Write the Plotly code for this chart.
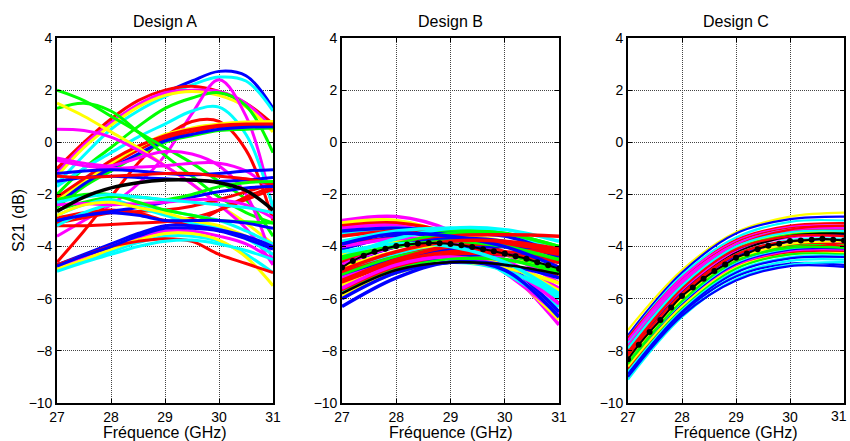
import plotly.graph_objects as go

# ---------------- data ----------------
freq_A = [27, 27.5, 28, 28.5, 29, 29.5, 30, 30.5, 31]
freq_BC = [27, 28, 29, 30, 31]
freq_mean = [27, 27.2, 27.4, 27.6, 27.8, 28, 28.2, 28.4, 28.6, 28.8, 29,
             29.2, 29.4, 29.6, 29.8, 30, 30.2, 30.4, 30.6, 30.8, 31]

x_ticks = [27, 28, 29, 30, 31]
x_ticktext = ["27", "28", "29", "30", "31"]
y_ticks = [-10, -8, -6, -4, -2, 0, 2, 4]

titles = ["Design A", "Design B", "Design C"]
x_title = "Fréquence (GHz)"
y_title = "S21 (dB)"

A_colors = ["blue", "cyan", "red", "magenta", "yellow", "green", "magenta", "cyan",
            "red", "red", "yellow", "green", "blue", "red", "green", "green",
            "yellow", "magenta", "magenta", "magenta", "blue", "blue", "red", "red",
            "red", "red", "blue", "green", "cyan", "cyan", "magenta", "yellow",
            "green", "blue", "cyan", "blue", "magenta", "cyan", "yellow", "red",
            "cyan", "blue"]
A_curves = [
    [-1.1, -0.1, 0.75, 1.4, 1.9, 2.35, 2.72, 2.55, 1.3],
    [-1.6, -0.5, 0.5, 1.2, 1.75, 2.2, 2.5, 2.35, 1.2],
    [-1.0, 0.0, 0.9, 1.6, 2.0, 2.15, 1.95, 1.5, 0.7],
    [-1.2, -0.1, 0.75, 1.45, 1.9, 2.0, 1.95, 1.5, 0.5],
    [-1.3, -0.2, 0.65, 1.35, 1.8, 1.95, 1.8, 1.35, 0.4],
    [-2.0, -1.0, -0.2, 0.6, 1.3, 1.7, 1.9, 1.4, -0.4],
    [-3.6, -3.0, -2.4, -1.6, -0.5, 1.1, 2.4, 1.0, -2.6],
    [-1.7, -1.0, -0.4, 0.2, 0.7, 1.2, 1.35, 0.3, -2.5],
    [-4.6, -3.4, -2.1, -0.8, 0.2, 0.8, 0.8, -0.3, -3.0],
    [-2.3, -1.6, -0.9, -0.3, 0.15, 0.4, 0.6, 0.65, 0.7],
    [-2.2, -1.5, -0.8, -0.2, 0.3, 0.55, 0.7, 0.78, 0.8],
    [-2.5, -1.7, -1.1, -0.5, 0.0, 0.25, 0.45, 0.5, 0.55],
    [-2.4, -1.6, -1.0, -0.45, 0.05, 0.3, 0.5, 0.58, 0.6],
    [-2.1, -1.4, -0.7, -0.15, 0.25, 0.5, 0.65, 0.7, 0.7],
    [2.0, 1.6, 1.0, 0.4, -0.2, -0.8, -1.5, -2.2, -3.6],
    [1.3, 1.5, 1.2, 0.4, -0.5, -1.3, -2.1, -2.7, -3.1],
    [1.5, 1.0, 0.4, -0.2, -0.9, -1.6, -2.4, -3.1, -3.9],
    [0.5, 0.45, 0.2, -0.3, -0.9, -1.6, -2.4, -3.3, -4.7],
    [-0.6, -0.8, -0.9, -0.6, -0.35, -0.45, -0.9, -2.0, -4.6],
    [-0.7, -0.9, -1.0, -0.95, -0.9, -0.8, -0.8, -1.1, -1.9],
    [-1.2, -1.1, -1.05, -1.1, -1.2, -1.25, -1.2, -1.1, -1.05],
    [-1.5, -1.35, -1.3, -1.35, -1.4, -1.45, -1.5, -1.45, -1.35],
    [-1.3, -1.35, -1.3, -1.25, -1.2, -1.2, -1.3, -1.4, -1.6],
    [-3.1, -2.9, -2.7, -2.65, -2.6, -2.45, -2.2, -1.9, -1.6],
    [-3.2, -3.2, -3.15, -3.1, -3.05, -2.9, -2.6, -2.2, -1.8],
    [-2.9, -2.7, -2.6, -2.7, -3.0, -3.1, -2.6, -2.1, -1.7],
    [-3.0, -2.8, -2.65, -2.5, -2.3, -2.1, -1.9, -1.75, -1.7],
    [-2.6, -2.3, -2.1, -2.1, -2.2, -2.0, -1.7, -1.55, -1.5],
    [-3.2, -2.7, -2.4, -2.4, -2.6, -2.8, -3.0, -3.4, -3.9],
    [-2.8, -2.4, -2.2, -2.5, -2.8, -3.1, -3.3, -3.7, -4.3],
    [-2.4, -2.35, -2.4, -2.35, -2.3, -2.2, -2.2, -2.4, -2.9],
    [-2.8, -2.4, -2.3, -2.5, -2.7, -3.0, -3.2, -3.6, -4.0],
    [-2.2, -2.0, -2.0, -2.3, -2.6, -2.8, -3.0, -3.05, -3.1],
    [-3.0, -2.8, -2.7, -2.8, -3.0, -3.0, -3.0, -3.1, -3.3],
    [-2.3, -2.1, -2.0, -2.1, -2.2, -2.3, -2.4, -2.5, -2.7],
    [-4.7, -4.3, -3.9, -3.5, -3.2, -3.2, -3.35, -3.6, -4.0],
    [-4.8, -4.4, -4.0, -3.65, -3.4, -3.4, -3.6, -3.9, -4.5],
    [-4.9, -4.55, -4.2, -3.85, -3.6, -3.6, -3.8, -4.3, -5.0],
    [-4.85, -4.5, -4.1, -3.75, -3.5, -3.5, -3.75, -4.4, -5.5],
    [-4.7, -4.35, -4.0, -3.8, -3.7, -3.8, -4.3, -4.65, -5.0],
    [-4.95, -4.6, -4.3, -4.0, -3.8, -3.75, -3.9, -4.15, -4.5],
    [-4.75, -4.35, -4.0, -3.6, -3.3, -3.3, -3.4, -3.7, -4.1],
]
A_mean = [-2.65, -2.1, -1.75, -1.55, -1.45, -1.45, -1.55, -1.85, -2.6]

B_colors = ["magenta", "yellow", "red", "magenta", "cyan", "cyan", "blue", "red",
            "cyan", "green", "blue", "red", "yellow", "magenta", "cyan", "green",
            "red", "blue", "magenta", "yellow", "cyan", "red", "green", "blue",
            "magenta", "red", "yellow", "blue", "red", "magenta", "green", "cyan",
            "yellow", "blue", "blue", "red", "cyan", "green", "blue", "red"]
B_curves = [
    [-3.0, -2.85, -3.4, -4.8, -7.0],
    [-3.1, -3.0, -3.6, -4.9, -6.8],
    [-3.2, -3.1, -3.5, -4.5, -6.2],
    [-3.3, -3.2, -3.7, -5.0, -6.6],
    [-3.5, -3.3, -3.6, -4.7, -6.0],
    [-3.6, -3.4, -3.9, -5.0, -6.3],
    [-3.4, -3.3, -3.5, -4.6, -6.5],
    [-3.6, -3.4, -3.5, -3.9, -4.8],
    [-3.8, -3.4, -3.3, -3.5, -4.2],
    [-4.0, -3.6, -3.4, -3.5, -4.0],
    [-4.1, -3.6, -3.5, -3.6, -4.3],
    [-3.9, -3.7, -3.8, -4.2, -5.2],
    [-4.3, -3.8, -3.6, -3.8, -4.5],
    [-4.0, -3.7, -3.8, -4.5, -5.8],
    [-4.4, -3.7, -3.3, -3.35, -3.8],
    [-4.5, -3.9, -3.5, -3.5, -4.0],
    [-4.6, -4.0, -3.6, -3.55, -3.6],
    [-4.7, -4.0, -3.7, -3.8, -4.4],
    [-4.7, -4.0, -3.9, -4.3, -5.4],
    [-4.8, -4.2, -4.0, -4.3, -5.0],
    [-5.0, -4.3, -4.1, -4.6, -6.0],
    [-5.0, -4.4, -4.0, -4.0, -4.3],
    [-5.1, -4.4, -4.1, -4.3, -4.9],
    [-5.2, -4.5, -4.1, -4.0, -4.1],
    [-5.2, -4.6, -4.3, -4.6, -5.6],
    [-5.4, -4.6, -4.2, -4.2, -4.5],
    [-5.5, -4.8, -4.5, -4.7, -5.7],
    [-5.6, -4.8, -4.4, -4.3, -4.6],
    [-5.7, -4.8, -4.3, -4.3, -4.6],
    [-5.6, -4.7, -4.4, -4.8, -6.2],
    [-5.8, -4.9, -4.5, -4.5, -5.0],
    [-5.8, -5.0, -4.6, -4.9, -5.9],
    [-5.9, -5.0, -4.6, -4.8, -5.4],
    [-6.0, -5.0, -4.6, -4.7, -5.2],
    [-6.3, -5.2, -4.6, -4.9, -6.7],
    [-5.3, -4.5, -4.0, -3.9, -4.2],
    [-4.2, -3.9, -4.0, -4.6, -5.8],
    [-4.4, -4.0, -3.8, -4.0, -4.5],
    [-3.9, -3.5, -3.6, -4.0, -4.8],
    [-4.9, -4.2, -3.8, -3.8, -4.1],
]
B_nominal = [-5.8, -4.9, -4.6, -4.7, -5.05]
B_mean = [-4.8, -4.55, -4.35, -4.2, -4.08, -3.98, -3.92, -3.88, -3.86, -3.87, -3.9,
          -3.95, -4.02, -4.1, -4.18, -4.27, -4.37, -4.47, -4.6, -4.72, -4.85]

C_colors = ["yellow", "blue", "cyan", "red", "magenta", "red", "cyan", "magenta",
            "red", "yellow", "green", "blue", "magenta", "black", "cyan", "red",
            "blue", "magenta", "red", "green", "red", "cyan", "blue", "magenta",
            "red", "yellow", "green", "cyan", "blue", "cyan", "blue", "cyan",
            "blue", "red", "red", "magenta", "red", "yellow", "green", "cyan"]
C_curves = [
    [-7.2, -4.9, -3.45, -2.85, -2.7],
    [-7.4, -5.0, -3.5, -2.95, -2.85],
    [-7.5, -5.1, -3.65, -3.05, -3.0],
    [-7.5, -5.2, -3.75, -3.2, -3.1],
    [-7.6, -5.2, -3.8, -3.25, -3.2],
    [-7.7, -5.3, -3.85, -3.3, -3.25],
    [-7.7, -5.35, -3.9, -3.35, -3.3],
    [-7.8, -5.4, -3.95, -3.4, -3.35],
    [-7.9, -5.5, -4.0, -3.45, -3.35],
    [-8.0, -5.6, -4.05, -3.5, -3.45],
    [-7.9, -5.55, -4.1, -3.55, -3.5],
    [-8.1, -5.7, -4.15, -3.6, -3.55],
    [-8.0, -5.65, -4.2, -3.65, -3.6],
    [-8.2, -5.8, -4.25, -3.6, -3.5],
    [-8.2, -5.85, -4.3, -3.75, -3.7],
    [-8.3, -5.9, -4.35, -3.8, -3.75],
    [-8.4, -6.0, -4.4, -3.85, -3.8],
    [-8.3, -5.95, -4.45, -3.9, -3.85],
    [-8.5, -6.1, -4.5, -3.95, -3.9],
    [-8.4, -6.05, -4.55, -4.0, -3.95],
    [-8.6, -6.2, -4.6, -4.05, -4.0],
    [-8.5, -6.15, -4.65, -4.1, -4.05],
    [-8.6, -6.25, -4.7, -4.15, -4.1],
    [-8.7, -6.3, -4.75, -4.2, -4.15],
    [-8.7, -6.35, -4.8, -4.25, -4.2],
    [-8.6, -6.3, -4.8, -4.3, -4.25],
    [-8.8, -6.4, -4.85, -4.3, -4.3],
    [-8.8, -6.45, -4.95, -4.4, -4.35],
    [-8.9, -6.5, -5.0, -4.45, -4.4],
    [-9.0, -6.6, -5.1, -4.55, -4.5],
    [-8.9, -6.55, -5.15, -4.65, -4.7],
    [-9.1, -6.7, -5.25, -4.7, -4.6],
    [-9.0, -6.65, -5.3, -4.75, -4.78],
    [-8.2, -5.8, -4.3, -3.8, -4.0],
    [-8.0, -5.6, -4.1, -3.6, -3.6],
    [-7.6, -5.3, -3.9, -3.35, -3.3],
    [-8.1, -5.6, -4.0, -3.35, -3.2],
    [-8.3, -6.0, -4.5, -3.9, -3.8],
    [-8.5, -6.1, -4.55, -4.05, -4.05],
    [-7.9, -5.5, -4.0, -3.45, -3.4],
]
C_mean = [-8.32, -7.77, -7.28, -6.82, -6.34, -5.9, -5.57, -5.23, -4.94, -4.69, -4.43,
          -4.27, -4.1, -3.97, -3.89, -3.79, -3.77, -3.74, -3.7, -3.74, -3.77]

# ---------------- figure ----------------
COLOR = {"red": "#FF0000", "blue": "#0000FF", "green": "#00FF00", "yellow": "#FFFF00",
         "cyan": "#00FFFF", "magenta": "#FF00FF", "black": "#000000"}

fig = go.Figure()

def add_curves(xs, curves, colors, axis, width):
    xa, ya = axis
    for vals, c in zip(curves, colors):
        fig.add_trace(go.Scatter(x=xs, y=vals, mode="lines", xaxis=xa, yaxis=ya,
                                 line=dict(color=COLOR[c], width=width, shape="spline"),
                                 showlegend=False, hoverinfo="skip"))

add_curves(freq_A, A_curves, A_colors, ("x", "y"), 3)
fig.add_trace(go.Scatter(x=freq_A, y=A_mean, mode="lines", xaxis="x", yaxis="y",
                         line=dict(color="black", width=3.5, shape="spline"), showlegend=False))

add_curves(freq_BC, B_curves, B_colors, ("x2", "y2"), 3.5)
fig.add_trace(go.Scatter(x=freq_BC, y=B_nominal, mode="lines", xaxis="x2", yaxis="y2",
                         line=dict(color="black", width=2.5, shape="spline"), showlegend=False))
fig.add_trace(go.Scatter(x=freq_mean, y=B_mean, mode="lines+markers", xaxis="x2", yaxis="y2",
                         line=dict(color="black", width=2, shape="spline"),
                         marker=dict(color="black", size=6), showlegend=False))

add_curves(freq_BC, C_curves, C_colors, ("x3", "y3"), 2.2)
fig.add_trace(go.Scatter(x=freq_mean, y=C_mean, mode="lines+markers", xaxis="x3", yaxis="y3",
                         line=dict(color="black", width=2, shape="spline"),
                         marker=dict(color="black", size=6), showlegend=False))

domains = [[57 / 850, 273 / 850], [342 / 850, 559 / 850], [628 / 850, 844 / 850]]
ydom = [1 - 403 / 441, 1 - 38 / 441]
tickfont = dict(family="Liberation Sans, Arial, sans-serif", size=14, color="black")

axis_common = dict(showline=True, linecolor="black", linewidth=1.6, mirror="ticks",
                   ticks="inside", ticklen=4, tickcolor="black", automargin=False,
                   ticklabeloverflow="allow",
                   showgrid=True, gridcolor="#444444", gridwidth=1, griddash="1px,1px",
                   zeroline=False, tickfont=tickfont)

layout = dict(width=850, height=441, margin=dict(l=0, r=0, t=0, b=0, pad=0),
              paper_bgcolor="white", plot_bgcolor="white", showlegend=False,
              template="none")
for i, suf in enumerate(["", "2", "3"]):
    ttext = list(x_ticktext)
    if i == 2:
        ttext[-1] = ""  # drawn as an annotation below so it stays inside the page
    layout["xaxis" + suf] = dict(axis_common, domain=domains[i], range=[27, 31],
                                 tickvals=x_ticks, ticktext=ttext, anchor="y" + suf)
    layout["yaxis" + suf] = dict(axis_common, domain=ydom, range=[-10, 4],
                                 tickvals=y_ticks, anchor="x" + suf)
fig.update_layout(**layout)

font_t = dict(family="Liberation Sans, Arial, sans-serif", size=16, color="black")
ann = []
for i, t in enumerate(titles):
    cx = (domains[i][0] + domains[i][1]) / 2
    ann.append(dict(text=t, x=cx, y=1 - 21 / 441, xref="paper", yref="paper",
                    showarrow=False, font=font_t, xanchor="center", yanchor="middle"))
    ann.append(dict(text=x_title, x=cx, y=1 - 432 / 441, xref="paper", yref="paper",
                    showarrow=False, font=font_t, xanchor="center", yanchor="middle"))
ann.append(dict(text=y_title, x=19 / 850, y=1 - 221 / 441, xref="paper", yref="paper",
                showarrow=False, font=font_t, textangle=-90, xanchor="center", yanchor="middle"))
ann.append(dict(text=x_ticktext[-1], x=848 / 850, y=1 - 416 / 441, xref="paper", yref="paper",
                showarrow=False, font=tickfont, xanchor="right", yanchor="middle",
                borderpad=0))
fig.update_layout(annotations=ann)

fig.write_html("out.html", config={"displayModeBar": False},
               post_script="document.body.style.margin='0px';document.body.style.overflow='hidden';")
